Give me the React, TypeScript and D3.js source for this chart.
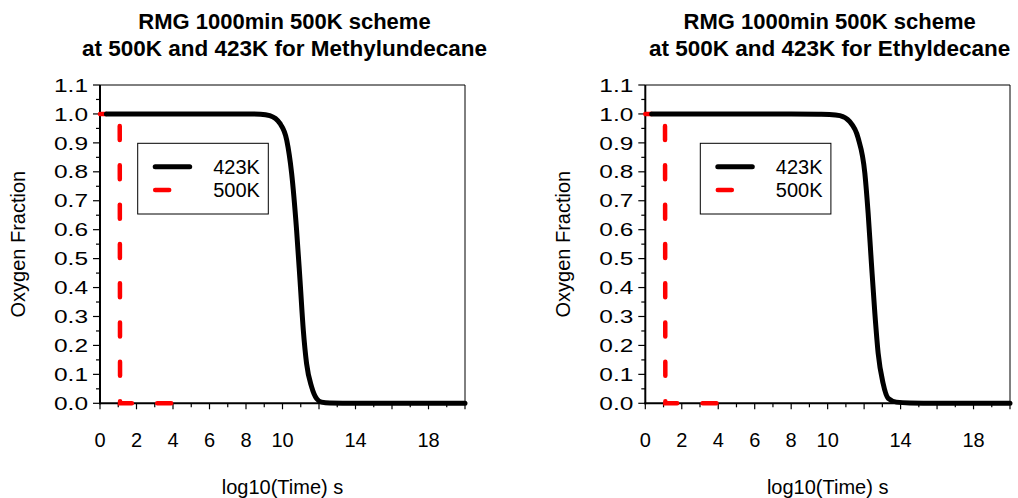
import React from "react";
import * as d3 from "d3";

// ---- data ----
const xTickValues = d3.range(0, 21, 1);
const xTickLabels = [0, 2, 4, 6, 8, 10, 14, 18];
const yTickValues = [0, 0.1, 0.2, 0.3, 0.4, 0.5, 0.6, 0.7, 0.8, 0.9, 1.0, 1.1];
const yMinorValues = [0.05, 0.15, 0.25, 0.35, 0.45, 0.55, 0.65, 0.75, 0.85, 0.95, 1.05];

const seriesNames = ["423K", "500K"];

// Methylundecane
const methyl423X = [0.35, 2, 4, 6, 8, 8.8, 9.3, 9.86, 10.23, 10.5, 10.77, 10.96, 11.14, 11.32, 11.6, 11.87, 12.14, 12.6, 14, 16, 18, 20];
const methyl423Y = [1, 1, 1, 1, 1, 0.999, 0.994, 0.967, 0.91, 0.795, 0.6, 0.425, 0.253, 0.137, 0.056, 0.016, 0.004, 0.001, 0, 0, 0, 0];
const methyl500X = [0, 1.08, 1.1, 4];
const methyl500Y = [1, 1, 0, 0];

// Ethyldecane
const ethyl423X = [0.35, 2, 4, 6, 8, 9.5, 10.1, 10.67, 11.2, 11.67, 12.04, 12.22, 12.4, 12.59, 12.77, 13.04, 13.32, 13.77, 14.5, 16, 18, 20];
const ethyl423Y = [1, 1, 1, 1, 1, 0.999, 0.998, 0.994, 0.974, 0.917, 0.795, 0.657, 0.484, 0.31, 0.173, 0.069, 0.017, 0.004, 0.001, 0, 0, 0];
const ethyl500X = [0, 1.08, 1.1, 4];
const ethyl500Y = [1, 1, 0, 0];

const titleLine1 = "RMG 1000min 500K scheme";
const titlesLine2 = ["at 500K and 423K for Methylundecane", "at 500K and 423K for Ethyldecane"];
const xAxisLabel = "log10(Time) s";
const yAxisLabel = "Oxygen Fraction";

const FONT = "Arial, 'Liberation Sans', sans-serif";

type P = [number, number];
const zip = (xs: number[], ys: number[]): P[] => xs.map((x, i) => [x, ys[i]]);

interface ChartProps {
  left: number;
  right: number;
  title2: string;
  s423: P[];
  s500: P[];
  legendX: number;
}

function Chart({ left, right, title2, s423, s500, legendX }: ChartProps) {
  const top = 85;
  const bottom = 403.3;
  const x = d3.scaleLinear().domain([0, 20]).range([left, right]);
  const y = d3.scaleLinear().domain([0, 1.1]).range([bottom, top]);
  const cx = (left + right) / 2;
  const lineSmooth = d3
    .line<P>()
    .x((d) => x(d[0]))
    .y((d) => y(d[1]))
    .curve(d3.curveMonotoneX);
  const lineStraight = d3
    .line<P>()
    .x((d) => x(d[0]))
    .y((d) => y(d[1]));
  const ly = 143.3;
  return (
    <g>
      <text x={cx + 2} y={29} textAnchor="middle" fontFamily={FONT} fontWeight="bold" fontSize={22}>
        {titleLine1}
      </text>
      <text x={cx + 2} y={56} textAnchor="middle" fontFamily={FONT} fontWeight="bold" fontSize={22.5}>
        {title2}
      </text>
      {/* frame top/right */}
      <line x1={left} x2={right} y1={top} y2={top} stroke="#000" strokeWidth={1} />
      <line x1={right} x2={right} y1={top} y2={bottom} stroke="#000" strokeWidth={1} />
      {/* y ticks */}
      {yTickValues.map((v) => (
        <g key={"y" + v}>
          <line x1={left - 7} x2={left} y1={y(v)} y2={y(v)} stroke="#000" strokeWidth={1.2} />
          <text
            x={left - 12}
            y={y(v)}
            dy="0.35em"
            textAnchor="end"
            fontFamily={FONT}
            fontSize={19}
            textLength={34}
            lengthAdjust="spacingAndGlyphs"
          >
            {v.toFixed(1)}
          </text>
        </g>
      ))}
      {yMinorValues.map((v) => (
        <line key={"ym" + v} x1={left - 4} x2={left} y1={y(v)} y2={y(v)} stroke="#000" strokeWidth={1.2} />
      ))}
      {/* x ticks */}
      {xTickValues.map((v) => (
        <line
          key={"x" + v}
          x1={x(v)}
          x2={x(v)}
          y1={bottom}
          y2={bottom + (v % 2 === 0 ? 6 : 4)}
          stroke="#000"
          strokeWidth={1.2}
        />
      ))}
      {xTickLabels.map((v) => (
        <text key={"xl" + v} x={x(v)} y={447} textAnchor="middle" fontFamily={FONT} fontSize={20}>
          {v}
        </text>
      ))}
      {/* axes */}
      <line x1={left} x2={left} y1={top} y2={bottom + 1} stroke="#000" strokeWidth={2} />
      <line x1={left - 1} x2={right} y1={bottom} y2={bottom} stroke="#000" strokeWidth={2} />
      {/* series */}
      <path
        d={lineStraight(s500) || ""}
        fill="none"
        stroke="#ff0000"
        strokeWidth={4.5}
        strokeDasharray="14 25.3"
        strokeDashoffset={7.5}
        strokeLinecap="round"
      />
      <path d={lineSmooth(s423) || ""} fill="none" stroke="#000" strokeWidth={5} strokeLinecap="round" />
      {/* axis labels */}
      <text x={cx} y={494} textAnchor="middle" fontFamily={FONT} fontSize={20}>
        {xAxisLabel}
      </text>
      <text
        transform={`translate(${left - 82},${(top + bottom) / 2}) rotate(-90)`}
        textAnchor="middle"
        dy="0.35em"
        fontFamily={FONT}
        fontSize={20}
      >
        {yAxisLabel}
      </text>
      {/* legend */}
      <rect x={legendX} y={ly} width={130.6} height={70.7} fill="#fff" stroke="#000" strokeWidth={1} />
      <line x1={legendX + 17.5} x2={legendX + 52} y1={ly + 23.4} y2={ly + 23.4} stroke="#000" strokeWidth={5} strokeLinecap="round" />
      <line x1={legendX + 17.5} x2={legendX + 31.5} y1={ly + 46.7} y2={ly + 46.7} stroke="#ff0000" strokeWidth={4.5} strokeLinecap="round" />
      <text x={legendX + 75.5} y={ly + 23.4} dy="0.35em" fontFamily={FONT} fontSize={20}>
        {seriesNames[0]}
      </text>
      <text x={legendX + 75.5} y={ly + 46.7} dy="0.35em" fontFamily={FONT} fontSize={20}>
        {seriesNames[1]}
      </text>
    </g>
  );
}

export default function App() {
  return (
    <div style={{ position: "absolute", left: 0, top: 0 }}>
      <svg width={1018} height={498} style={{ display: "block", background: "#fff" }}>
        <Chart
          left={100}
          right={465}
          title2={titlesLine2[0]}
          s423={zip(methyl423X, methyl423Y)}
          s500={zip(methyl500X, methyl500Y)}
          legendX={137.7}
        />
        <Chart
          left={645.3}
          right={1010}
          title2={titlesLine2[1]}
          s423={zip(ethyl423X, ethyl423Y)}
          s500={zip(ethyl500X, ethyl500Y)}
          legendX={700.3}
        />
      </svg>
    </div>
  );
}
